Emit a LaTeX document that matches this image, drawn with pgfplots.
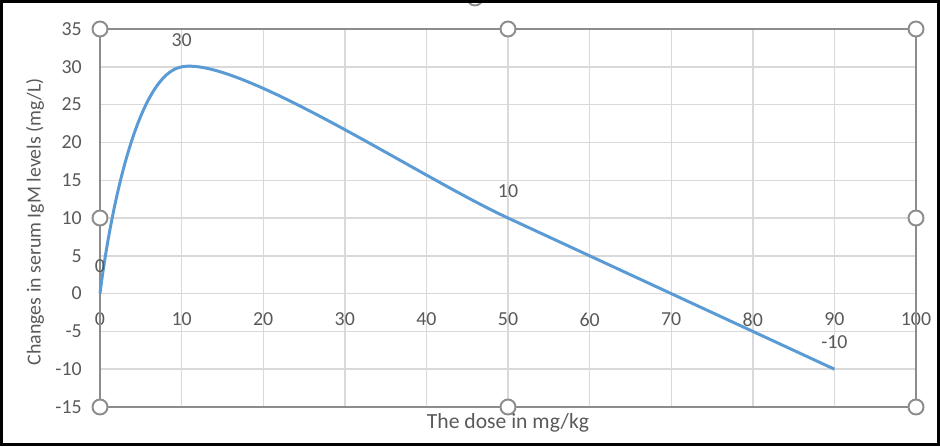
\documentclass[border=0pt]{standalone}
\usepackage{pgfplots}
\pgfplotsset{compat=1.18}
\usepackage{fontspec}
\setmainfont{Carlito}

\definecolor{txt}{HTML}{595959}
\definecolor{gridc}{HTML}{D9D9D9}
\definecolor{frm}{HTML}{8C8C8C}
\definecolor{excelblue}{HTML}{5B9BD5}

\begin{document}
\begin{tikzpicture}
\useasboundingbox (-2.0,-0.78) rectangle (16.8,8.14);
\begin{axis}[
    at={(0,0)}, anchor=south west,
    scale only axis, width=16.32cm, height=7.56cm,
    xmin=0, xmax=100, ymin=-15, ymax=35,
    xtick={0,10,...,100}, ytick={-15,-10,...,35},
    axis x line=middle, axis y line=left,
    axis line style={draw=none},
    hide obscured x ticks=false, hide obscured y ticks=false,
    major tick length=0pt,
    grid=major, major grid style={gridc, line width=0.8pt},
    font=\fontsize{11.3}{13}\selectfont,
    /pgf/number format/assume math mode=true,
    tick label style={txt},
    xticklabel style={anchor=center, yshift=-0.52cm, inner sep=0pt},
    yticklabel style={anchor=east, xshift=-0.36cm, inner sep=0pt},
    xlabel={The dose in mg/kg},
    ylabel={Changes in serum IgM levels (mg/L)},
    label style={txt},
    xlabel style={at={(axis description cs:0.5,-0.0423)}, anchor=center,
        font=\fontsize{12.3}{14}\selectfont},
    ylabel style={at={(axis description cs:-0.0797,0.49)}, anchor=center},
    clip=false,
]
% plot area frame with selection handles
\draw[frm, line width=1.1pt] (rel axis cs:0,0) rectangle (rel axis cs:1,1);
\draw[frm, fill=white, line width=1.1pt] (rel axis cs:0,0) circle[radius=0.15cm];
\draw[frm, fill=white, line width=1.1pt] (rel axis cs:0.5,0) circle[radius=0.15cm];
\draw[frm, fill=white, line width=1.1pt] (rel axis cs:1,0) circle[radius=0.15cm];
\draw[frm, fill=white, line width=1.1pt] (rel axis cs:0,0.5) circle[radius=0.15cm];
\draw[frm, fill=white, line width=1.1pt] (rel axis cs:1,0.5) circle[radius=0.15cm];
\draw[frm, fill=white, line width=1.1pt] (rel axis cs:0,1) circle[radius=0.15cm];
\draw[frm, fill=white, line width=1.1pt] (rel axis cs:0.5,1) circle[radius=0.15cm];
\draw[frm, fill=white, line width=1.1pt] (rel axis cs:1,1) circle[radius=0.15cm];

% dose-response series
\addplot[excelblue, line width=1.7pt, smooth, mark=none,
    nodes near coords,
    every node near coord/.append style={txt, anchor=center, yshift=0.54cm, inner sep=0pt}]
    coordinates {(0,0) (10,30) (50,10) (90,-10)};
\end{axis}
% chart area handle and outer border
\draw[frm, fill=white, line width=1.1pt] (7.5,8.18) circle[radius=0.15cm];
\draw[black, line width=0.06cm] (-1.97,-0.75) rectangle (16.77,8.11);
\end{tikzpicture}
\end{document}
